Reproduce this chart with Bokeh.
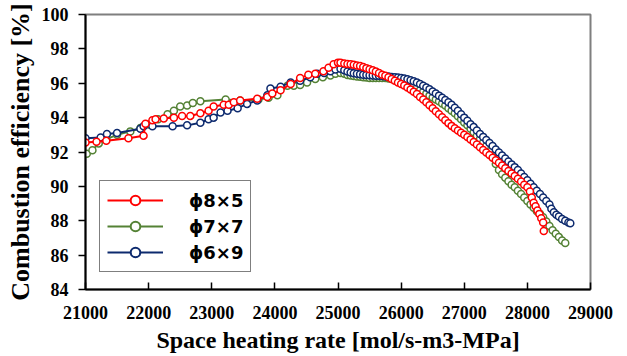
from bokeh.plotting import figure
from bokeh.embed import file_html
from bokeh.resources import INLINE
from bokeh.models import Legend, LegendItem, FixedTicker, ColumnDataSource, Range1d

# ---- data ----
red_x = [21000, 21175, 21330, 21680, 21920, 21950, 22060, 22110, 22240, 22400, 22530, 22660, 22820, 22950,
         23030, 23190, 23270, 23350, 23450, 23720, 23880, 23960, 24090, 24250, 24400, 24530, 24640, 24770,
         24850, 24930, 25000, 25040,
         25100, 25150, 25200, 25250, 25300, 25350, 25400, 25450, 25500, 25550, 25600, 25650, 25700, 25750,
         25800, 25850, 25900, 25950, 26000, 26050, 26100, 26150, 26200, 26250, 26300, 26350, 26400, 26450,
         26500, 26550, 26600, 26650, 26700, 26750, 26800, 26850, 26900, 26950, 27000, 27050, 27100, 27150,
         27200, 27250, 27300, 27350, 27400, 27450, 27500, 27550, 27600, 27650, 27700, 27750, 27800, 27850,
         27900, 27950, 28000, 28040, 28070, 28100, 28130, 28160, 28190, 28220, 28250, 28260]
red_y = [92.55, 92.6, 92.65, 92.8, 92.95, 93.65, 93.85, 93.9, 93.95, 94.0, 94.1, 94.1, 94.25, 94.4,
         94.65, 94.75, 94.75, 94.9, 95.0, 95.1, 95.2, 95.4, 95.6, 95.95, 96.3, 96.5, 96.55, 96.7,
         96.9, 97.1, 97.2, 97.2,
         97.15, 97.12, 97.1, 97.07, 97.03, 97.0, 96.95, 96.88, 96.82, 96.75, 96.68, 96.6, 96.5, 96.43,
         96.35, 96.25, 96.15, 96.05, 95.95, 95.87, 95.75, 95.63, 95.5, 95.38, 95.2, 95.05, 94.9, 94.72,
         94.55, 94.37, 94.2, 94.02, 93.85, 93.68, 93.52, 93.38, 93.25, 93.12, 93.0, 92.87, 92.73, 92.58,
         92.43, 92.28, 92.12, 91.97, 91.82, 91.67, 91.52, 91.37, 91.22, 91.06, 90.9, 90.75, 90.6, 90.45,
         90.28, 90.1, 89.95, 89.7, 89.35, 89.05, 88.85, 88.6, 88.4, 88.15, 87.9, 87.4]

green_x = [21020, 21110, 21210, 21330, 21500, 21710, 21870, 22000, 22150, 22300, 22400, 22500, 22610, 22700,
           22820, 23220, 23450, 23740, 23900, 24040, 24200, 24300, 24400, 24510, 24640, 24760, 24880, 24960,
           25040,
           25100, 25150, 25200, 25250, 25300, 25350, 25400, 25450, 25500, 25550, 25600, 25650, 25700, 25750,
           25800, 25850, 25900, 25950, 26000, 26050, 26100, 26150, 26200, 26250, 26300, 26350, 26400, 26450,
           26500, 26550, 26600, 26650, 26700, 26750, 26800, 26850, 26900, 26950, 27000, 27050, 27100, 27150,
           27200, 27250, 27300, 27350, 27400, 27450, 27500, 27550, 27600, 27650, 27700, 27750, 27800, 27850,
           27900, 27950, 28000, 28050, 28100, 28150, 28200, 28250, 28300, 28350, 28400, 28450, 28500, 28550,
           28600]
green_y = [91.9, 92.1, 92.5, 92.75, 93.0, 93.2, 93.4, 93.6, 93.9, 94.2, 94.4, 94.65, 94.7, 94.85,
           94.95, 95.05, 95.0, 95.05, 95.15, 95.3, 95.85, 95.85, 95.9, 96.05, 96.25, 96.35, 96.45, 96.55,
           96.6,
           96.55, 96.48, 96.45, 96.42, 96.4, 96.38, 96.35, 96.33, 96.3, 96.3, 96.3, 96.3, 96.3, 96.3,
           96.28, 96.25, 96.22, 96.18, 96.12, 96.05, 95.98, 95.9, 95.82, 95.72, 95.6, 95.5, 95.4, 95.28,
           95.17, 95.05, 94.95, 94.82, 94.7, 94.55, 94.4, 94.25, 94.08, 93.9, 93.72, 93.55, 93.35, 93.15,
           92.95, 92.75, 92.55, 92.35, 92.05, 91.7, 91.3, 90.95, 90.7, 90.5, 90.3, 90.1, 89.95, 89.75,
           89.55, 89.35, 89.15, 88.95, 88.75, 88.55, 88.4, 88.2, 87.95, 87.7, 87.45, 87.25, 87.05, 86.85,
           86.7]

blue_x = [21000, 21240, 21340, 21500, 21870, 21920, 22060, 22380, 22610, 22820, 22950, 23030, 23140, 23250,
          23410, 23560, 23720, 23880, 23930, 24090, 24250, 24400, 24560, 24670, 24780, 24880, 24960, 25040,
          25100, 25150, 25200, 25250, 25300, 25350, 25400, 25450, 25500, 25550, 25600, 25650, 25700, 25750,
          25800, 25850, 25900, 25950, 26000, 26050, 26100, 26150, 26200, 26250, 26300, 26350, 26400, 26450,
          26500, 26550, 26600, 26650, 26700, 26750, 26800, 26850, 26900, 26950, 27000, 27050, 27100, 27150,
          27200, 27250, 27300, 27350, 27400, 27450, 27500, 27550, 27600, 27650, 27700, 27750, 27800, 27850,
          27900, 27950, 28000, 28050, 28100, 28150, 28200, 28250, 28300, 28350, 28380, 28420, 28460, 28500,
          28550, 28600, 28650, 28680]
blue_y = [92.8, 92.85, 93.05, 93.1, 93.35, 93.5, 93.5, 93.5, 93.55, 93.7, 93.9, 94.0, 94.3, 94.4,
          94.55, 94.8, 95.0, 95.3, 95.7, 95.8, 96.05, 96.15, 96.35, 96.55, 96.6, 96.7, 96.8, 96.85,
          96.75, 96.68, 96.62, 96.58, 96.55, 96.52, 96.5, 96.48, 96.46, 96.45, 96.44, 96.43, 96.42, 96.4,
          96.39, 96.37, 96.35, 96.33, 96.3, 96.27, 96.23, 96.18, 96.12, 96.05, 95.95, 95.85, 95.75, 95.65,
          95.52, 95.4, 95.28, 95.15, 95.02, 94.9, 94.75, 94.58, 94.4, 94.2, 94.0, 93.82, 93.62, 93.45,
          93.25, 93.05, 92.88, 92.7, 92.52, 92.35, 92.15, 91.97, 91.8, 91.62, 91.45, 91.28, 91.12, 90.95,
          90.75, 90.55, 90.35, 90.15, 89.95, 89.75, 89.55, 89.35, 89.15, 88.95, 88.7, 88.5, 88.35, 88.25,
          88.1, 88.0, 87.9, 87.85]

labels = ["ϕ8×5", "ϕ7×7", "ϕ6×9"]
x_ticks = [21000, 22000, 23000, 24000, 25000, 26000, 27000, 28000, 29000]
y_ticks = [84, 86, 88, 90, 92, 94, 96, 98, 100]

RED = "#ff0000"
GREEN = "#548235"
BLUE = "#0d2a6e"

p = figure(width=627, height=356, output_backend="svg", toolbar_location=None,
           x_range=(21000, 29000), y_range=(84, 100),
           min_border_left=85, min_border_right=37, min_border_top=14, min_border_bottom=67)
# a range far from the data: renderers drawn on it stay outside the frame (legend symbols only)
p.extra_x_ranges = {"legend_only": Range1d(0, 1)}
p.xgrid.visible = False
p.ygrid.visible = False
p.outline_line_color = "#7f7f7f"
p.outline_line_width = 2

serif = "Liberation Serif"
for ax in (p.xaxis[0], p.yaxis[0]):
    ax.axis_line_color = "black"
    ax.axis_line_width = 2
    ax.major_tick_line_color = "black"
    ax.major_tick_line_width = 1.5
    ax.minor_tick_line_color = None
    ax.major_label_text_font = serif
    ax.major_label_text_font_style = "bold"
    ax.major_label_text_font_size = "18px"
    ax.major_label_text_color = "black"
    ax.axis_label_text_font = serif
    ax.axis_label_text_font_style = "bold"
    ax.axis_label_text_color = "black"

p.xaxis.axis_label_text_font_size = "24px"
p.yaxis.axis_label_text_font_size = "26px"
p.xaxis.ticker = FixedTicker(ticks=x_ticks)
p.yaxis.ticker = FixedTicker(ticks=y_ticks)
p.xaxis.major_tick_in = 7
p.xaxis.major_tick_out = 0
p.yaxis.major_tick_in = 0
p.yaxis.major_tick_out = 7
p.xaxis.major_label_standoff = 16
p.yaxis.major_label_standoff = 10
p.xaxis.axis_label = "Space heating rate [mol/s-m3-MPa]"
p.yaxis.axis_label = "Combustion efficiency [%]"
p.xaxis.axis_label_standoff = 5
p.yaxis.axis_label_standoff = 4

legend_renderers = {}
series = [("g", green_x, green_y, GREEN), ("b", blue_x, blue_y, BLUE), ("r", red_x, red_y, RED)]
for key, xs, ys, col in series:
    src = ColumnDataSource(data=dict(x=xs, y=ys))
    p.line("x", "y", source=src, line_color=col, line_width=2)
    p.scatter("x", "y", source=src, marker="circle", size=7, line_color=col, line_width=1.5, fill_color="white")
    ln = p.line("x", "y", source=src, x_range_name="legend_only", line_color=col, line_width=2)
    sc = p.scatter("x", "y", source=src, x_range_name="legend_only", marker="circle",
                   size=12, line_color=col, line_width=2, fill_color="white")
    legend_renderers[key] = [ln, sc]

items = [LegendItem(label=labels[0], renderers=legend_renderers["r"]),
         LegendItem(label=labels[1], renderers=legend_renderers["g"]),
         LegendItem(label=labels[2], renderers=legend_renderers["b"])]

legend = Legend(items=items, location=(14, 17), orientation="vertical")
legend.label_text_font = "DejaVu Sans"
legend.label_text_font_style = "bold"
legend.label_text_font_size = "18px"
legend.label_text_color = "black"
legend.glyph_width = 56
legend.glyph_height = 24
legend.label_height = 24
legend.label_standoff = 26
legend.spacing = 2
legend.padding = 7
legend.margin = 0
legend.border_line_color = "black"
legend.border_line_width = 1.5
legend.background_fill_alpha = 1
p.add_layout(legend, "center")

open("out.html", "w").write(file_html(p, INLINE))
